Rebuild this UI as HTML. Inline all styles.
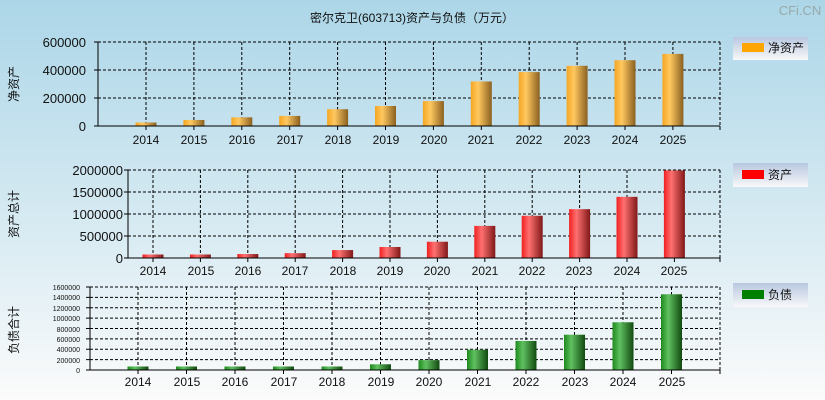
<!DOCTYPE html>
<html><head><meta charset="utf-8"><style>
body{margin:0;width:825px;height:400px;overflow:hidden;background:linear-gradient(#acd6e8,#d6eaf2 55%,#fbfbfb);font-family:"Liberation Sans","Noto Sans CJK SC",sans-serif}
svg{position:absolute;left:0;top:0}
text{font-family:"Liberation Sans","Noto Sans CJK SC",sans-serif;fill:#111}
</style></head><body>
<svg width="825" height="400" id="s">
<defs>
<linearGradient id="gy" x1="0" x2="1"><stop offset="0" stop-color="#f5a623"/><stop offset="0.35" stop-color="#ffc860"/><stop offset="1" stop-color="#8a6020"/></linearGradient>
<linearGradient id="gr" x1="0" x2="1"><stop offset="0" stop-color="#f02020"/><stop offset="0.35" stop-color="#ff7070"/><stop offset="1" stop-color="#801818"/></linearGradient>
<linearGradient id="gg" x1="0" x2="1"><stop offset="0" stop-color="#1e8a1e"/><stop offset="0.35" stop-color="#60c060"/><stop offset="1" stop-color="#104a10"/></linearGradient>
<linearGradient id="lg" x1="0" y1="0" x2="0" y2="1"><stop offset="0" stop-color="#b8c8e0"/><stop offset="1" stop-color="#f8f8f8"/></linearGradient>
</defs>
<text x="412" y="22" font-size="12" text-anchor="middle">密尔克卫(603713)资产与负债（万元）</text>
<text x="800" y="15" font-size="13" text-anchor="middle" style="fill:#9aa">CFi.CN</text>
<g id="g"></g>
<text x="86" y="47" font-size="13" text-anchor="end">600000</text>
<text x="86" y="75" font-size="13" text-anchor="end">400000</text>
<text x="86" y="103" font-size="13" text-anchor="end">200000</text>
<text x="86" y="131" font-size="13" text-anchor="end">0</text>
<text font-size="12" transform="translate(18,84) rotate(-90)" text-anchor="middle">净资产</text>
<g font-size="12" text-anchor="middle">
<text x="146" y="144">2014</text><text x="194" y="144">2015</text><text x="242" y="144">2016</text><text x="290" y="144">2017</text><text x="338" y="144">2018</text><text x="386" y="144">2019</text><text x="434" y="144">2020</text><text x="481" y="144">2021</text><text x="529" y="144">2022</text><text x="577" y="144">2023</text><text x="625" y="144">2024</text><text x="673" y="144">2025</text>
</g>
<rect x="733" y="37" width="75" height="23" fill="url(#lg)"/><rect x="742" y="43" width="22" height="9" fill="#ffa500"/><text x="768" y="52" font-size="12">净资产</text>
<text x="123" y="175" font-size="13" text-anchor="end">2000000</text>
<text x="123" y="197" font-size="13" text-anchor="end">1500000</text>
<text x="123" y="219" font-size="13" text-anchor="end">1000000</text>
<text x="123" y="241" font-size="13" text-anchor="end">500000</text>
<text x="123" y="263" font-size="13" text-anchor="end">0</text>
<text font-size="12" transform="translate(18,214) rotate(-90)" text-anchor="middle">资产总计</text>
<g font-size="12" text-anchor="middle">
<text x="153" y="275">2014</text><text x="201" y="275">2015</text><text x="248" y="275">2016</text><text x="295" y="275">2017</text><text x="343" y="275">2018</text><text x="390" y="275">2019</text><text x="437" y="275">2020</text><text x="485" y="275">2021</text><text x="532" y="275">2022</text><text x="579" y="275">2023</text><text x="627" y="275">2024</text><text x="674" y="275">2025</text>
</g>
<rect x="733" y="163" width="75" height="24" fill="url(#lg)"/><rect x="742" y="170" width="22" height="9" fill="#f00"/><text x="768" y="179" font-size="12">资产</text>
<g font-size="7" text-anchor="end">
<text x="80" y="290">1600000</text><text x="80" y="300">1400000</text><text x="80" y="311">1200000</text><text x="80" y="321">1000000</text><text x="80" y="332">800000</text><text x="80" y="342">600000</text><text x="80" y="352">400000</text><text x="80" y="363">200000</text><text x="80" y="373">0</text>
</g>
<text font-size="12" transform="translate(18,330) rotate(-90)" text-anchor="middle">负债合计</text>
<g font-size="12" text-anchor="middle">
<text x="138" y="386">2014</text><text x="187" y="386">2015</text><text x="235" y="386">2016</text><text x="284" y="386">2017</text><text x="332" y="386">2018</text><text x="381" y="386">2019</text><text x="429" y="386">2020</text><text x="478" y="386">2021</text><text x="526" y="386">2022</text><text x="575" y="386">2023</text><text x="623" y="386">2024</text><text x="672" y="386">2025</text>
</g>
<rect x="733" y="283" width="75" height="24" fill="url(#lg)"/><rect x="742" y="290" width="22" height="9" fill="#008000"/><text x="768" y="299" font-size="12">负债</text>
</svg>
<script>
var NS="http://www.w3.org/2000/svg",G=document.getElementById("g");
function el(t,a){var e=document.createElementNS(NS,t);for(var k in a)e.setAttribute(k,a[k]);G.appendChild(e);}
function chart(L,R,T,B,max,nT,x0,dx,vals,fill,bw){
 for(var i=0;i<=nT;i++){var y=T+(B-T)*i/nT;if(i<nT)el("line",{x1:L,x2:R,y1:y,y2:y,stroke:"#000","stroke-dasharray":"3,2"});el("line",{x1:L-4,x2:L,y1:y,y2:y,stroke:"#000"});}
 for(var j=0;j<12;j++){var x=x0+dx*j;el("line",{x1:x,x2:x,y1:T,y2:B,stroke:"#000","stroke-dasharray":"3,2"});el("line",{x1:x,x2:x,y1:B,y2:B+4,stroke:"#000"});}
 el("line",{x1:R,x2:R,y1:T,y2:B,stroke:"#000","stroke-dasharray":"3,2"});
 for(var j=0;j<12;j++){var h=Math.max(3.5,(B-T)*vals[j]/max);el("rect",{x:x0+dx*j-bw/2,y:B-h,width:bw,height:h,fill:fill});}
 el("line",{x1:L,x2:L,y1:T,y2:B,stroke:"#000"});el("line",{x1:L,x2:R,y1:B,y2:B,stroke:"#000"});el("line",{x1:R,x2:R,y1:B,y2:B+4,stroke:"#000"});
}
chart(98,720,42,126,600000,3,146,47.9,[20000,43000,62000,72000,120000,143000,178000,318000,385000,430000,470000,515000],"url(#gy)",21);
chart(128,720,170,258,2000000,4,153,47.4,[40000,60000,90000,110000,180000,250000,370000,730000,960000,1110000,1390000,1990000],"url(#gr)",21);
chart(90,720,287,370,1600000,8,138,48.5,[20000,25000,28000,30000,50000,110000,190000,390000,560000,680000,920000,1460000],"url(#gg)",21);
</script>
</body></html>
